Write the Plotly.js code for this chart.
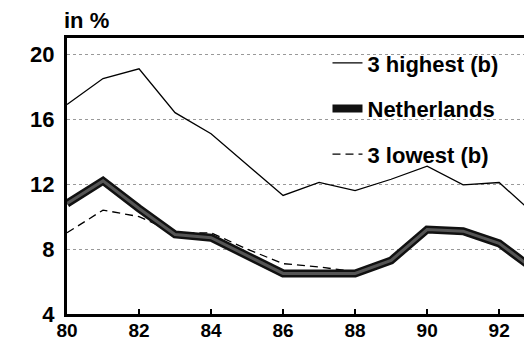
<!DOCTYPE html>
<html>
<head>
<meta charset="utf-8">
<script src="https://cdn.plot.ly/plotly-3.0.1.min.js"></script>
<style>html,body{margin:0;padding:0;background:#fff;}#chart{width:524px;height:343px;}</style>
</head>
<body>
<div id="chart"></div>
<script>
const years = [80, 81, 82, 83, 84, 85, 86, 87, 88, 89, 90, 91, 92, 93];
const highest = [16.9, 18.5, 19.1, 16.4, 15.1, 13.2, 11.3, 12.1, 11.6, 12.3, 13.1, 11.95, 12.1, 10.1];
const netherlands = [10.8, 12.2, 10.5, 8.9, 8.7, 7.6, 6.5, 6.5, 6.5, 7.3, 9.2, 9.1, 8.35, 6.7];
const lowest = [9.0, 10.4, 10.0, 9.0, 9.0, 8.0, 7.1, 6.9, 6.6, 7.4, 9.2, 8.9, 8.3, 6.8];
const xTicks = [80, 82, 84, 86, 88, 90, 92];
const yTicks = [4, 8, 12, 16, 20];

const font = {family: 'Liberation Sans, Arial, sans-serif', size: 22, color: '#000', weight: 'bold'};
const xFont = {family: 'Liberation Sans, Arial, sans-serif', size: 19, color: '#000', weight: 'bold'};

const traces = [
  {x: years, y: highest, name: '3 highest (b)', mode: 'lines', legendgroup: 'a', legendrank: 1,
   line: {color: '#000', width: 1.3}},
  {x: years, y: lowest, name: '3 lowest (b)', mode: 'lines', legendgroup: 'c', legendrank: 3,
   line: {color: '#000', width: 1.3, dash: '8px,5px'}},
  {x: years, y: netherlands, name: 'Netherlands', mode: 'lines', legendgroup: 'b', legendrank: 2,
   line: {color: '#111', width: 8}},
  {x: years, y: netherlands, name: 'Netherlands', mode: 'lines', showlegend: false, legendgroup: 'b',
   line: {color: '#555', width: 3}}
];

const layout = {
  width: 524, height: 343,
  margin: {l: 67, r: 0, t: 38, b: 29},
  paper_bgcolor: '#fff', plot_bgcolor: '#fff',
  font: font,
  showlegend: true,
  legend: {x: 0.57, y: 0.985, xanchor: 'left', yanchor: 'top', bgcolor: 'rgba(0,0,0,0)',
           font: {family: 'Liberation Sans, Arial, sans-serif', size: 22, color: '#000', weight: 'bold'},
           tracegroupgap: 14, itemwidth: 30},
  xaxis: {range: [80, 92.69], tickvals: xTicks, ticktext: xTicks.map(String),
          showline: true, linewidth: 3, linecolor: '#000', mirror: true,
          ticks: 'inside', ticklen: 5, tickwidth: 1.5, tickcolor: '#000',
          showgrid: false, zeroline: false, tickfont: xFont, ticklabelstandoff: -3},
  yaxis: {range: [4, 21], tickvals: yTicks, ticktext: yTicks.map(String),
          showline: true, linewidth: 3, linecolor: '#000',
          ticks: '', showgrid: true, gridcolor: '#999', griddash: 'dot', gridwidth: 1,
          zeroline: false, tickfont: font, ticklabelstandoff: 5},
  annotations: [{text: 'in %', xref: 'paper', yref: 'paper', x: -0.01, y: 1.0, xanchor: 'left', yanchor: 'bottom',
                 yshift: 3, showarrow: false, font: font}]
};

Plotly.newPlot('chart', traces, layout, {displayModeBar: false, staticPlot: true});
</script>
</body>
</html>
